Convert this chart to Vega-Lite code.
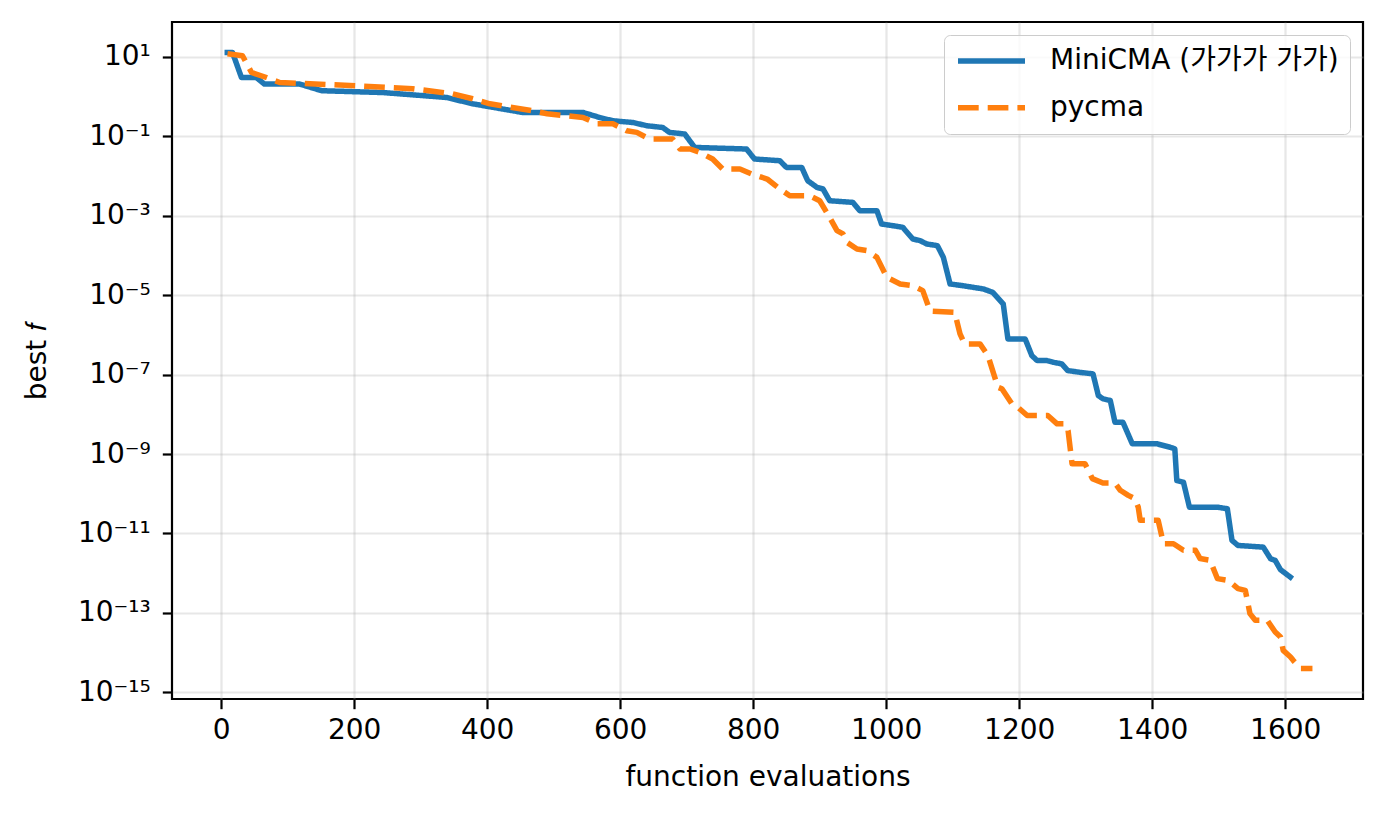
{
  "$schema": "https://vega.github.io/schema/vega-lite/v6.json",
  "width": 1191,
  "height": 677,
  "autosize": "none",
  "padding": {"left": 172, "top": 22, "right": 25, "bottom": 118},
  "background": "white",
  "config": {
    "view": {"stroke": "black", "strokeWidth": 2.2},
    "font": "DejaVu Sans",
    "axis": {
      "domain": false,
      "grid": true,
      "gridColor": "#b0b0b0",
      "gridOpacity": 0.3,
      "gridWidth": 2.2,
      "tickColor": "black",
      "tickWidth": 2.2,
      "tickSize": 9.7,
      "labelFont": "DejaVu Sans",
      "labelFontSize": 28,
      "labelColor": "black",
      "titleFont": "DejaVu Sans",
      "titleFontSize": 28,
      "titleFontWeight": "normal",
      "titleColor": "black"
    }
  },
  "data": {
    "values": [
      {"series": "MiniCMA", "evals": 5, "best": 12.8},
      {"series": "MiniCMA", "evals": 17, "best": 12.8},
      {"series": "MiniCMA", "evals": 30.5, "best": 3.0},
      {"series": "MiniCMA", "evals": 53, "best": 3.0},
      {"series": "MiniCMA", "evals": 65, "best": 2.06},
      {"series": "MiniCMA", "evals": 118, "best": 2.06},
      {"series": "MiniCMA", "evals": 151, "best": 1.4},
      {"series": "MiniCMA", "evals": 243, "best": 1.26},
      {"series": "MiniCMA", "evals": 339, "best": 0.946},
      {"series": "MiniCMA", "evals": 378, "best": 0.657},
      {"series": "MiniCMA", "evals": 453, "best": 0.397},
      {"series": "MiniCMA", "evals": 544, "best": 0.397},
      {"series": "MiniCMA", "evals": 569, "best": 0.297},
      {"series": "MiniCMA", "evals": 589, "best": 0.245},
      {"series": "MiniCMA", "evals": 619, "best": 0.222},
      {"series": "MiniCMA", "evals": 640, "best": 0.184},
      {"series": "MiniCMA", "evals": 664, "best": 0.166},
      {"series": "MiniCMA", "evals": 674, "best": 0.125},
      {"series": "MiniCMA", "evals": 697, "best": 0.114},
      {"series": "MiniCMA", "evals": 712, "best": 0.0523},
      {"series": "MiniCMA", "evals": 790, "best": 0.0477},
      {"series": "MiniCMA", "evals": 802, "best": 0.0267},
      {"series": "MiniCMA", "evals": 840, "best": 0.0242},
      {"series": "MiniCMA", "evals": 850, "best": 0.0164},
      {"series": "MiniCMA", "evals": 873, "best": 0.0164},
      {"series": "MiniCMA", "evals": 882, "best": 0.00759},
      {"series": "MiniCMA", "evals": 896, "best": 0.00515},
      {"series": "MiniCMA", "evals": 905, "best": 0.0047},
      {"series": "MiniCMA", "evals": 915, "best": 0.00238},
      {"series": "MiniCMA", "evals": 950, "best": 0.00216},
      {"series": "MiniCMA", "evals": 960, "best": 0.00134},
      {"series": "MiniCMA", "evals": 986, "best": 0.00134},
      {"series": "MiniCMA", "evals": 993, "best": 0.000618},
      {"series": "MiniCMA", "evals": 1010, "best": 0.00056},
      {"series": "MiniCMA", "evals": 1025, "best": 0.000508},
      {"series": "MiniCMA", "evals": 1040, "best": 0.000259},
      {"series": "MiniCMA", "evals": 1051, "best": 0.000235},
      {"series": "MiniCMA", "evals": 1061, "best": 0.000194},
      {"series": "MiniCMA", "evals": 1077, "best": 0.000176},
      {"series": "MiniCMA", "evals": 1086, "best": 8.9e-5},
      {"series": "MiniCMA", "evals": 1096, "best": 1.91e-5},
      {"series": "MiniCMA", "evals": 1115, "best": 1.73e-5},
      {"series": "MiniCMA", "evals": 1146, "best": 1.43e-5},
      {"series": "MiniCMA", "evals": 1160, "best": 1.18e-5},
      {"series": "MiniCMA", "evals": 1176, "best": 6.0e-6},
      {"series": "MiniCMA", "evals": 1183, "best": 7.9e-7},
      {"series": "MiniCMA", "evals": 1209, "best": 7.9e-7},
      {"series": "MiniCMA", "evals": 1219, "best": 3.0e-7},
      {"series": "MiniCMA", "evals": 1227, "best": 2.25e-7},
      {"series": "MiniCMA", "evals": 1242, "best": 2.25e-7},
      {"series": "MiniCMA", "evals": 1251, "best": 2.04e-7},
      {"series": "MiniCMA", "evals": 1264, "best": 1.86e-7},
      {"series": "MiniCMA", "evals": 1273, "best": 1.26e-7},
      {"series": "MiniCMA", "evals": 1291, "best": 1.14e-7},
      {"series": "MiniCMA", "evals": 1311, "best": 1.04e-7},
      {"series": "MiniCMA", "evals": 1319, "best": 2.96e-8},
      {"series": "MiniCMA", "evals": 1326, "best": 2.45e-8},
      {"series": "MiniCMA", "evals": 1337, "best": 2.22e-8},
      {"series": "MiniCMA", "evals": 1344, "best": 6.3e-9},
      {"series": "MiniCMA", "evals": 1356, "best": 6.3e-9},
      {"series": "MiniCMA", "evals": 1370, "best": 1.81e-9},
      {"series": "MiniCMA", "evals": 1407, "best": 1.81e-9},
      {"series": "MiniCMA", "evals": 1427, "best": 1.48e-9},
      {"series": "MiniCMA", "evals": 1434, "best": 1.35e-9},
      {"series": "MiniCMA", "evals": 1437, "best": 2.15e-10},
      {"series": "MiniCMA", "evals": 1447, "best": 1.95e-10},
      {"series": "MiniCMA", "evals": 1456, "best": 4.59e-11},
      {"series": "MiniCMA", "evals": 1498, "best": 4.59e-11},
      {"series": "MiniCMA", "evals": 1513, "best": 4.18e-11},
      {"series": "MiniCMA", "evals": 1520, "best": 6.67e-12},
      {"series": "MiniCMA", "evals": 1529, "best": 4.99e-12},
      {"series": "MiniCMA", "evals": 1567, "best": 4.52e-12},
      {"series": "MiniCMA", "evals": 1578, "best": 2.31e-12},
      {"series": "MiniCMA", "evals": 1585, "best": 2.09e-12},
      {"series": "MiniCMA", "evals": 1593, "best": 1.22e-12},
      {"series": "MiniCMA", "evals": 1611, "best": 7.24e-13},
      {"series": "pycma", "evals": 9.5, "best": 11.9},
      {"series": "pycma", "evals": 32, "best": 10.6},
      {"series": "pycma", "evals": 45.6, "best": 4.03},
      {"series": "pycma", "evals": 68, "best": 3.01},
      {"series": "pycma", "evals": 88, "best": 2.25},
      {"series": "pycma", "evals": 204, "best": 1.86},
      {"series": "pycma", "evals": 288, "best": 1.57},
      {"series": "pycma", "evals": 348, "best": 1.17},
      {"series": "pycma", "evals": 378, "best": 0.877},
      {"series": "pycma", "evals": 404, "best": 0.657},
      {"series": "pycma", "evals": 468, "best": 0.438},
      {"series": "pycma", "evals": 490, "best": 0.368},
      {"series": "pycma", "evals": 544, "best": 0.297},
      {"series": "pycma", "evals": 565, "best": 0.206},
      {"series": "pycma", "evals": 589, "best": 0.206},
      {"series": "pycma", "evals": 610, "best": 0.137},
      {"series": "pycma", "evals": 625, "best": 0.125},
      {"series": "pycma", "evals": 644, "best": 0.0851},
      {"series": "pycma", "evals": 679, "best": 0.0851},
      {"series": "pycma", "evals": 690, "best": 0.0477},
      {"series": "pycma", "evals": 705, "best": 0.0477},
      {"series": "pycma", "evals": 720, "best": 0.0391},
      {"series": "pycma", "evals": 739, "best": 0.0267},
      {"series": "pycma", "evals": 754, "best": 0.015},
      {"series": "pycma", "evals": 780, "best": 0.015},
      {"series": "pycma", "evals": 798, "best": 0.0112},
      {"series": "pycma", "evals": 821, "best": 0.00838},
      {"series": "pycma", "evals": 840, "best": 0.0047},
      {"series": "pycma", "evals": 855, "best": 0.00319},
      {"series": "pycma", "evals": 885, "best": 0.00319},
      {"series": "pycma", "evals": 900, "best": 0.00238},
      {"series": "pycma", "evals": 915, "best": 0.000906},
      {"series": "pycma", "evals": 926, "best": 0.00042},
      {"series": "pycma", "evals": 935, "best": 0.000347},
      {"series": "pycma", "evals": 941, "best": 0.000213},
      {"series": "pycma", "evals": 956, "best": 0.000145},
      {"series": "pycma", "evals": 971, "best": 0.000132},
      {"series": "pycma", "evals": 986, "best": 8.93e-5},
      {"series": "pycma", "evals": 1001, "best": 2.8e-5},
      {"series": "pycma", "evals": 1021, "best": 1.91e-5},
      {"series": "pycma", "evals": 1040, "best": 1.73e-5},
      {"series": "pycma", "evals": 1055, "best": 1.3e-5},
      {"series": "pycma", "evals": 1066, "best": 3.95e-6},
      {"series": "pycma", "evals": 1103, "best": 3.69e-6},
      {"series": "pycma", "evals": 1111, "best": 1.06e-6},
      {"series": "pycma", "evals": 1118, "best": 5.92e-7},
      {"series": "pycma", "evals": 1141, "best": 5.92e-7},
      {"series": "pycma", "evals": 1153, "best": 3.0e-7},
      {"series": "pycma", "evals": 1168, "best": 4.79e-8},
      {"series": "pycma", "evals": 1174, "best": 4.37e-8},
      {"series": "pycma", "evals": 1189, "best": 1.83e-8},
      {"series": "pycma", "evals": 1198, "best": 1.5e-8},
      {"series": "pycma", "evals": 1212, "best": 9.3e-9},
      {"series": "pycma", "evals": 1243, "best": 9.3e-9},
      {"series": "pycma", "evals": 1257, "best": 5.75e-9},
      {"series": "pycma", "evals": 1269, "best": 5.75e-9},
      {"series": "pycma", "evals": 1273.5, "best": 3.9e-9},
      {"series": "pycma", "evals": 1279.5, "best": 5.66e-10},
      {"series": "pycma", "evals": 1299, "best": 5.66e-10},
      {"series": "pycma", "evals": 1310, "best": 2.4e-10},
      {"series": "pycma", "evals": 1326, "best": 1.86e-10},
      {"series": "pycma", "evals": 1344, "best": 1.86e-10},
      {"series": "pycma", "evals": 1352, "best": 1.22e-10},
      {"series": "pycma", "evals": 1364, "best": 9.1e-11},
      {"series": "pycma", "evals": 1374, "best": 7.5e-11},
      {"series": "pycma", "evals": 1379, "best": 4.6e-11},
      {"series": "pycma", "evals": 1382, "best": 2.14e-11},
      {"series": "pycma", "evals": 1409, "best": 2.14e-11},
      {"series": "pycma", "evals": 1417, "best": 5.5e-12},
      {"series": "pycma", "evals": 1432, "best": 5.5e-12},
      {"series": "pycma", "evals": 1447, "best": 3.77e-12},
      {"series": "pycma", "evals": 1465, "best": 3.77e-12},
      {"series": "pycma", "evals": 1472, "best": 2.33e-12},
      {"series": "pycma", "evals": 1487, "best": 2.11e-12},
      {"series": "pycma", "evals": 1498, "best": 7.3e-13},
      {"series": "pycma", "evals": 1514, "best": 6.6e-13},
      {"series": "pycma", "evals": 1529, "best": 4.08e-13},
      {"series": "pycma", "evals": 1540, "best": 3.7e-13},
      {"series": "pycma", "evals": 1547, "best": 9.6e-14},
      {"series": "pycma", "evals": 1555, "best": 6.5e-14},
      {"series": "pycma", "evals": 1573, "best": 6.5e-14},
      {"series": "pycma", "evals": 1585, "best": 3.3e-14},
      {"series": "pycma", "evals": 1593, "best": 2.47e-14},
      {"series": "pycma", "evals": 1597, "best": 1.14e-14},
      {"series": "pycma", "evals": 1608, "best": 7.76e-15},
      {"series": "pycma", "evals": 1612, "best": 6.4e-15},
      {"series": "pycma", "evals": 1623, "best": 4.0e-15},
      {"series": "pycma", "evals": 1641, "best": 4.0e-15}
    ]
  },
  "mark": {"type": "line", "strokeWidth": 5.5, "strokeJoin": "round", "clip": true},
  "encoding": {
    "x": {
      "field": "evals",
      "type": "quantitative",
      "scale": {"domain": [-74, 1717], "nice": false, "zero": false},
      "axis": {
        "values": [0, 200, 400, 600, 800, 1000, 1200, 1400, 1600],
        "format": "d",
        "labelPadding": 8,
        "titlePadding": 19,
        "title": "function evaluations"
      }
    },
    "y": {
      "field": "best",
      "type": "quantitative",
      "scale": {"type": "log", "domain": [6.79e-16, 75.2], "nice": false},
      "axis": {
        "values": [10, 0.1, 0.001, 1e-5, 1e-7, 1e-9, 1e-11, 1e-13, 1e-15],
        "labelExpr": "datum.value > 1 ? '10¹' : datum.value > 0.01 ? '10⁻¹' : datum.value > 1e-4 ? '10⁻³' : datum.value > 1e-6 ? '10⁻⁵' : datum.value > 1e-8 ? '10⁻⁷' : datum.value > 1e-10 ? '10⁻⁹' : datum.value > 1e-12 ? '10⁻¹¹' : datum.value > 1e-14 ? '10⁻¹³' : '10⁻¹⁵'",
        "labelPadding": 12,
        "titlePadding": 26,
        "title": "best 𝑓"
      }
    },
    "color": {
      "field": "series",
      "type": "nominal",
      "scale": {"domain": ["MiniCMA", "pycma"], "range": ["#1f77b4", "#ff7f0e"]},
      "legend": {
        "title": null,
        "orient": "top-right",
        "offset": 13,
        "labelExpr": "datum.label == 'MiniCMA' ? 'MiniCMA (가가가 가가)' : datum.label",
        "labelFont": "DejaVu Sans, Noto Sans CJK KR",
        "labelFontSize": 28,
        "labelColor": "black",
        "labelLimit": 0,
        "labelOffset": 22,
        "symbolType": "stroke",
        "symbolSize": 4489,
        "symbolStrokeWidth": 5.5,
        "clipHeight": 30,
        "rowPadding": 16.7,
        "padding": 11,
        "strokeColor": "#cccccc",
        "fillColor": "rgba(255,255,255,0.8)",
        "cornerRadius": 6
      }
    },
    "strokeDash": {
      "field": "series",
      "type": "nominal",
      "scale": {"domain": ["MiniCMA", "pycma"], "range": [[1, 0], [20.7, 9]]},
      "legend": null
    }
  }
}
